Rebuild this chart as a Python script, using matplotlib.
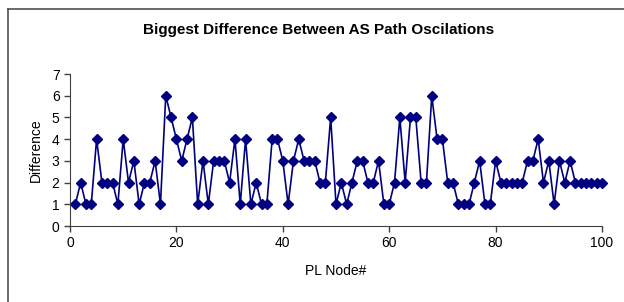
import numpy as np
from matplotlib import pyplot as plt
from matplotlib.lines import Line2D

plt.rcParams['font.family'] = ['Liberation Sans', 'DejaVu Sans']

# node numbers and biggest difference per node
nodes = list(range(1, 101))
diffs = [1, 2, 1, 1, 4, 2, 2, 2, 1, 4,
         2, 3, 1, 2, 2, 3, 1, 6, 5, 4,
         3, 4, 5, 1, 3, 1, 3, 3, 3, 2,
         4, 1, 4, 1, 2, 1, 1, 4, 4, 3,
         1, 3, 4, 3, 3, 3, 2, 2, 5, 1,
         2, 1, 2, 3, 3, 2, 2, 3, 1, 1,
         2, 5, 2, 5, 5, 2, 2, 6, 4, 4,
         2, 2, 1, 1, 1, 2, 3, 1, 1, 3,
         2, 2, 2, 2, 2, 3, 3, 4, 2, 3,
         1, 3, 2, 3, 2, 2, 2, 2, 2, 2]
xticks = [0, 20, 40, 60, 80, 100]
yticks = [0, 1, 2, 3, 4, 5, 6, 7]

navy = '#000080'

fig = plt.figure(figsize=(6.24, 3.02), dpi=100)
ax = fig.add_axes([70 / 624, 1 - 226 / 302, 532 / 624, 152 / 302])

ax.plot(nodes, diffs, color=navy, lw=1.2, marker='D', ms=5.5, mfc=navy, mec=navy,
        clip_on=False)

ax.set_xlim(0, 100)
ax.set_ylim(0, 7)
ax.set_xticks(xticks)
ax.set_yticks(yticks)
ax.tick_params(direction='out', length=4, width=1, labelsize=10, color='#404040')
for s in ['top', 'right']:
    ax.spines[s].set_visible(False)
for s in ['left', 'bottom']:
    ax.spines[s].set_color('#404040')

ax.set_xlabel('PL Node#', fontsize=10, labelpad=10)
ax.set_ylabel('Difference', fontsize=10, labelpad=6)
fig.text(319 / 624, 1 - 30 / 302, 'Biggest Difference Between AS Path Oscilations',
         ha='center', va='center', fontsize=11, fontweight='bold')

# chart area border (left and top edges visible)
fig.add_artist(Line2D([8 / 624, 8 / 624], [0, 1 - 9 / 302], transform=fig.transFigure,
                      color='#505050', lw=1.2))
fig.add_artist(Line2D([8 / 624, 1], [1 - 9 / 302, 1 - 9 / 302], transform=fig.transFigure,
                      color='#505050', lw=1.2))

fig.savefig('out.png', dpi=100)
